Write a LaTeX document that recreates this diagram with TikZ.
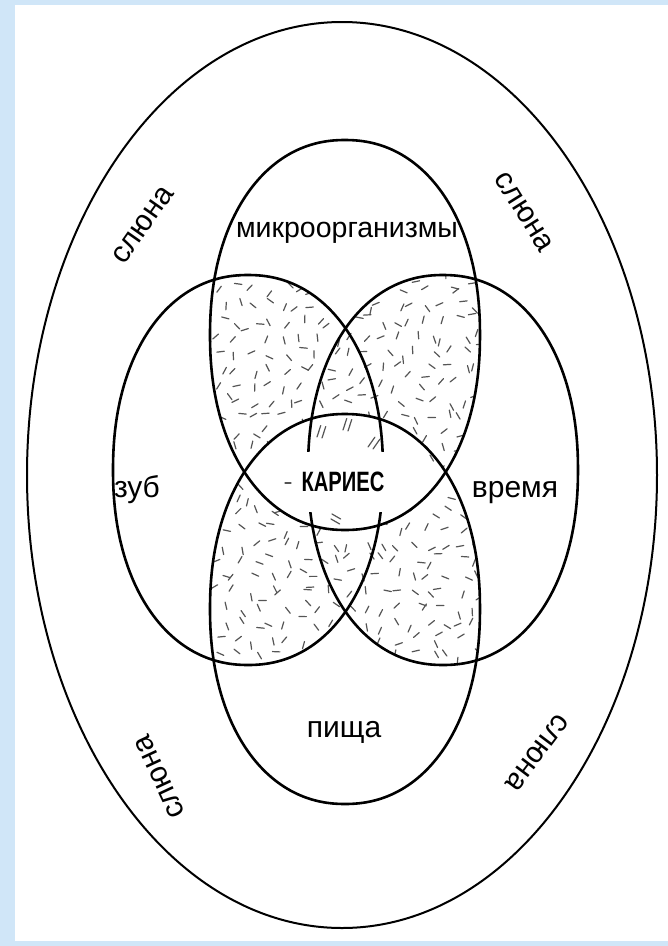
\documentclass[tikz,border=0pt]{standalone}
\usepackage{fontspec}
\setmainfont{Liberation Sans}
\usepackage{graphicx}
\usepackage{tikz}
\usetikzlibrary{positioning}
\definecolor{frameblue}{RGB}{208,230,248}
\definecolor{stipgray}{RGB}{85,85,85}

% rounded oval of the petals, centre #1,#2
\newcommand\petalpath[2]{plot[domain=0.5:359.5, samples=120, smooth cycle]
    ({#1+135*cos(\x)*abs(cos(\x))^(-0.07)}, {#2+195*sin(\x)*abs(sin(\x))^(-0.07)})}

\begin{document}
\begin{tikzpicture}[x=1pt, y=-1pt,
    ring/.style={line width=2pt},
    petal/.style={line width=2.6pt},
    stip/.style={stipgray, line width=1.2pt, line cap=round},
    word/.style={font=\fontsize{30}{34}\selectfont, inner sep=0pt}]
    \useasboundingbox (0,0) rectangle (668,946);
    \fill[frameblue] (0,0) rectangle (668,946);
    \fill[white] (15,5) rectangle (668,941);

    % stippled petals
    \begin{scope}
        \clip \petalpath{345}{335} \petalpath{345}{609};
        \clip \petalpath{248}{470} \petalpath{443}{470};
        \pgfmathsetseed{42}
        \foreach \x in {110,126,...,590} {
            \foreach \y in {270,286,...,680} {
                \pgfmathsetmacro\px{\x+6*rand}
                \pgfmathsetmacro\py{\y+6*rand}
                \pgfmathsetmacro\pa{180*rnd}
                \draw[stip] (\px,\py) -- ++(\pa:7.5);
            }
        }
    \end{scope}

    % clear lens under the label
    \begin{scope}
        \clip \petalpath{345}{335};
        \fill[white] \petalpath{345}{609};
    \end{scope}
    \draw[stip] (317,437) -- ++(-72:12) (322,438) -- ++(-72:12);
    \draw[stip] (343,430) -- ++(-72:12) (348,431) -- ++(-72:12);
    \draw[stip] (368,447) -- ++(-55:12) (373,449) -- ++(-55:12);
    \draw[stip] (332,514) -- ++(30:10) (331,519) -- ++(30:10);
    \draw[stip] (285,483) -- ++(0:6);
    \draw[stip] (430,455) -- ++(60:7);

    % rings
    \draw[ring] (342,475) ellipse [x radius=315, y radius=453];
    \draw[petal] \petalpath{345}{335};
    \draw[petal] \petalpath{345}{609};
    \draw[petal] \petalpath{248}{470};
    \draw[petal] \petalpath{443}{470};

    \node[fill=white, inner sep=0pt, minimum width=92pt, minimum height=60pt,
          font=\fontsize{28}{30}\selectfont\bfseries] (caries) at (343,482)
          {\scalebox{0.72}[1]{КАРИЕС}};

    \node[word, font=\fontsize{28.5}{33}\selectfont, anchor=base] (micro) at (347,237) {микроорганизмы};
    \node[word, anchor=base] (tooth) at (137,497) {зуб};
    \node[word, anchor=base] (time) at (515,497) {время};
    \node[word, anchor=base] (food) at (344,737) {пища};

    \node[word, rotate=55] (salivaA) at (143,225) {слюна};
    \node[word, rotate=-58] (salivaB) at (524,212) {слюна};
    \node[word, rotate=115] (salivaC) at (160,777) {слюна};
    \node[word, rotate=-127] (salivaD) at (537,753) {слюна};
\end{tikzpicture}
\end{document}
